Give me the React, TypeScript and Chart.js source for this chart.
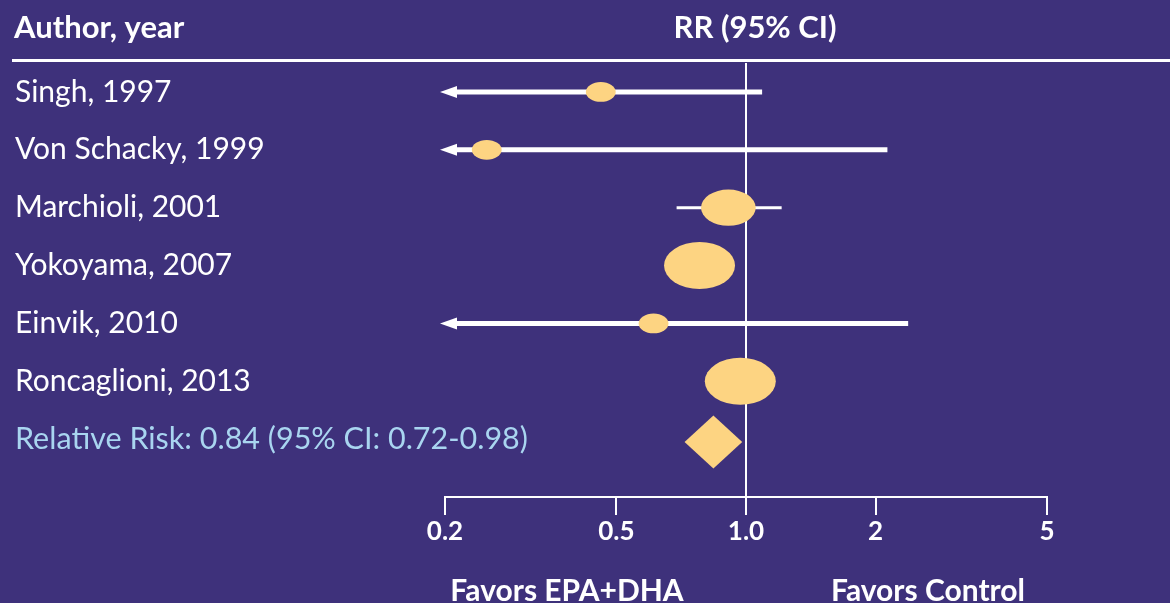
import React, { useEffect, useRef } from 'react';
import { Chart, registerables } from 'chart.js';

Chart.register(...registerables);

// ---- data ----
const categories = [
  'Singh, 1997',
  'Von Schacky, 1999',
  'Marchioli, 2001',
  'Yokoyama, 2007',
  'Einvik, 2010',
  'Roncaglioni, 2013',
];
const rrValues = [0.46, 0.25, 0.91, 0.78, 0.61, 0.97];
const ciLower = [0.1, 0.1, 0.69, 0.69, 0.1, 0.88];
const ciUpper = [1.09, 2.13, 1.21, 0.88, 2.38, 1.08];
const studyWeights = [0.42, 0.42, 0.77, 1.0, 0.42, 1.0];

const pooledLabel = 'Relative Risk: 0.84 (95% CI: 0.72-0.98)';
const pooledRR = 0.84;
const pooledLower = 0.72;
const pooledUpper = 0.98;

const tickValues = [0.2, 0.5, 1, 2, 5];
const tickLabels = ['0.2', '0.5', '1.0', '2', '5'];

const headerLeft = 'Author, year';
const headerRight = 'RR (95% CI)';
const favorsLeft = 'Favors EPA+DHA';
const favorsRight = 'Favors Control';

// ---- styles ----
const BG = '#3E317B';
const MARKER = '#FDD482';
const WHITE = '#FFFFFF';
const POOLED_TEXT = '#A9D5F0';
const FONT = 'Lato, "Open Sans", sans-serif';

const forestPlugin = {
  id: 'forest',
  beforeDraw(chart: any) {
    const { ctx, width, height } = chart;
    ctx.save();
    ctx.fillStyle = BG;
    ctx.fillRect(0, 0, width, height);
    ctx.restore();
  },
  beforeDatasetsDraw(chart: any) {
    const { ctx, chartArea, scales } = chart;
    const x = scales.x;
    const y = scales.y;
    ctx.save();

    // header
    ctx.fillStyle = WHITE;
    ctx.textBaseline = 'middle';
    ctx.font = `bold 31px ${FONT}`;
    ctx.textAlign = 'left';
    ctx.fillText(headerLeft, 14, 28);
    ctx.textAlign = 'center';
    ctx.fillText(headerRight, 755, 28);

    // header rule
    ctx.strokeStyle = WHITE;
    ctx.lineWidth = 3;
    ctx.beginPath();
    ctx.moveTo(12, 60.5);
    ctx.lineTo(1170, 60.5);
    ctx.stroke();

    // reference line at RR = 1
    const xRef = x.getPixelForValue(1);
    ctx.lineWidth = 2;
    ctx.beginPath();
    ctx.moveTo(xRef, chartArea.top);
    ctx.lineTo(xRef, chartArea.bottom);
    ctx.stroke();

    // labels
    ctx.textAlign = 'left';
    ctx.font = `30px ${FONT}`;
    categories.forEach((c, i) => {
      ctx.fillStyle = WHITE;
      ctx.fillText(c, 15, y.getPixelForValue(i + 1));
    });
    ctx.fillStyle = POOLED_TEXT;
    ctx.font = `30.5px ${FONT}`;
    ctx.fillText(pooledLabel, 15, y.getPixelForValue(categories.length + 1));

    // CI lines
    const xMinPx = x.getPixelForValue(x.min);
    categories.forEach((_, i) => {
      const py = y.getPixelForValue(i + 1);
      const offLeft = ciLower[i] < x.min;
      const x0 = offLeft ? xMinPx - 5 : x.getPixelForValue(ciLower[i]);
      const x1 = x.getPixelForValue(ciUpper[i]);
      ctx.strokeStyle = WHITE;
      ctx.lineWidth = offLeft ? 5 : 3;
      ctx.beginPath();
      ctx.moveTo(offLeft ? x0 + 14 : x0, py);
      ctx.lineTo(x1, py);
      ctx.stroke();
      if (offLeft) {
        ctx.fillStyle = WHITE;
        ctx.beginPath();
        ctx.moveTo(x0, py);
        ctx.lineTo(x0 + 17, py - 6);
        ctx.lineTo(x0 + 17, py + 6);
        ctx.closePath();
        ctx.fill();
      }
    });

    // markers
    categories.forEach((_, i) => {
      const px = x.getPixelForValue(rrValues[i]);
      const py = y.getPixelForValue(i + 1);
      const w = studyWeights[i];
      ctx.fillStyle = MARKER;
      ctx.beginPath();
      ctx.ellipse(px, py, 35.5 * w, 23.5 * w, 0, 0, Math.PI * 2);
      ctx.fill();
    });

    // pooled diamond
    const pyD = y.getPixelForValue(categories.length + 1.05);
    const xl = x.getPixelForValue(pooledLower);
    const xc = x.getPixelForValue(pooledRR);
    const xu = x.getPixelForValue(pooledUpper);
    ctx.fillStyle = MARKER;
    ctx.beginPath();
    ctx.moveTo(xl, pyD);
    ctx.lineTo(xc, pyD - 26.5);
    ctx.lineTo(xu, pyD);
    ctx.lineTo(xc, pyD + 26.5);
    ctx.closePath();
    ctx.fill();

    // favors labels
    ctx.fillStyle = WHITE;
    ctx.textAlign = 'center';
    ctx.font = `bold 30px ${FONT}`;
    ctx.fillText(favorsLeft, 567, 591);
    ctx.fillText(favorsRight, 928, 591);

    ctx.restore();
  },
};

export default function App() {
  const canvasRef = useRef<HTMLCanvasElement | null>(null);

  useEffect(() => {
    document.body.style.margin = '0';
    document.body.style.background = BG;
    const canvas = canvasRef.current;
    if (!canvas) return;
    const chart = new Chart(canvas, {
      type: 'scatter',
      data: {
        datasets: [
          {
            data: rrValues.map((v, i) => ({ x: v, y: i + 1 })),
            pointRadius: 0,
            showLine: false,
          },
        ],
      },
      options: {
        animation: false,
        responsive: false,
        devicePixelRatio: 1,
        layout: { padding: { left: 445, right: 123, top: 63, bottom: 56 } },
        plugins: {
          legend: { display: false },
          tooltip: { enabled: false },
          title: { display: false },
        },
        scales: {
          x: {
            type: 'logarithmic',
            min: 0.2,
            max: 5,
            position: 'bottom',
            afterBuildTicks: (s: any) => {
              s.ticks = tickValues.map((v) => ({ value: v }));
            },
            afterFit: (s: any) => {
              s.height = 50;
            },
            border: { display: true, color: WHITE, width: 2 },
            grid: {
              display: true,
              drawOnChartArea: false,
              drawTicks: true,
              tickLength: 18,
              color: WHITE,
              lineWidth: 2,
            },
            ticks: {
              color: WHITE,
              font: { family: FONT, weight: 'bold', size: 26 },
              padding: 1,
              maxRotation: 0,
              autoSkip: false,
              callback: (_v: any, i: number) => tickLabels[i],
            },
          },
          y: {
            type: 'linear',
            min: 0.5,
            max: 8,
            reverse: true,
            display: false,
          },
        },
      } as any,
      plugins: [forestPlugin],
    });
    return () => chart.destroy();
  }, []);

  return (
    <div style={{ width: 1170, height: 603, background: BG }}>
      <canvas ref={canvasRef} width={1170} height={603} style={{ display: 'block' }} />
    </div>
  );
}
